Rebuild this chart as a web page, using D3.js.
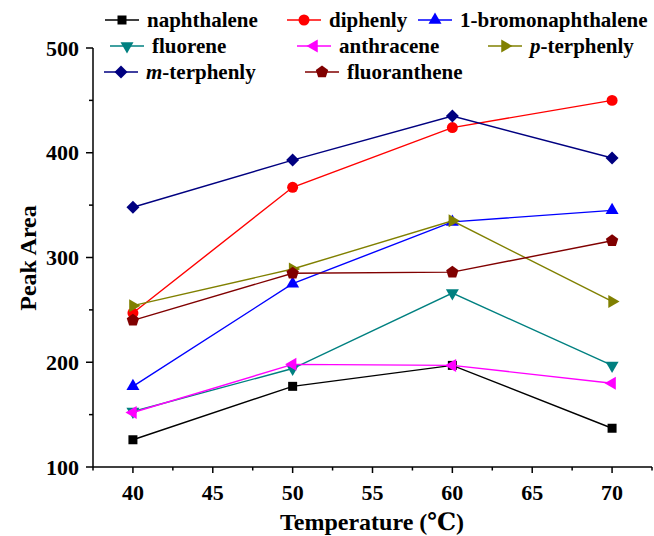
<!DOCTYPE html>
<html>
<head>
<meta charset="utf-8">
<script src="https://cdn.jsdelivr.net/npm/d3@7"></script>
<style>
  body { margin: 0; background: #fff; }
</style>
</head>
<body>
<svg id="chart" width="654" height="536" font-family="'Liberation Serif', 'DejaVu Serif', serif" font-weight="bold"></svg>
<script>
// temperaturen (x) en piekoppervlak per stof
var temps = [40, 50, 60, 70];
var naphthalene = [126, 177, 197, 137];
var diphenly = [247, 367, 424, 450];
var bromonaphthalene = [177, 275, 334, 345];
var fluorene = [153, 194, 266, 197];
var anthracene = [152, 198, 197, 180];
var pTerphenly = [254, 289, 335, 258];
var mTerphenly = [348, 393, 435, 395];
var fluoranthene = [240, 285, 286, 316];

var xTicks = [40, 45, 50, 55, 60, 65, 70];
var yTicks = [100, 200, 300, 400, 500];

var series = [
    { name: "naphthalene", values: naphthalene, color: "#000000", shape: "square" },
    { name: "diphenly", values: diphenly, color: "#ff0000", shape: "circle" },
    { name: "1-bromonaphthalene", values: bromonaphthalene, color: "#0000ff", shape: "up" },
    { name: "fluorene", values: fluorene, color: "#008080", shape: "down" },
    { name: "anthracene", values: anthracene, color: "#ff00ff", shape: "left" },
    { name: "p-terphenly", values: pTerphenly, color: "#808000", shape: "right", italic: "p" },
    { name: "m-terphenly", values: mTerphenly, color: "#000080", shape: "diamond", italic: "m" },
    { name: "fluoranthene", values: fluoranthene, color: "#800000", shape: "pentagon" }
];

// plek van de legenda-items (begin van het lijntje, midden van de regel)
var legendPos = [[105, 20], [287, 20], [418, 20], [110, 46], [297, 46], [488, 46], [104, 72], [305, 72]];

var svg = d3.select("#chart");

var x = d3.scaleLinear().domain([37.5, 72.5]).range([93, 652]);
var y = d3.scaleLinear().domain([100, 500]).range([467, 48]);

// regelmatige veelhoek als marker
function polygon(n, r, rot) {
    var pts = [];
    for (var i = 0; i < n; i++) {
        var a = rot + i * 2 * Math.PI / n;
        pts.push([r * Math.cos(a), r * Math.sin(a)]);
    }
    return "M" + pts.join("L") + "Z";
}

function markerPath(shape) {
    switch (shape) {
        case "square": return "M-4.5,-4.5H4.5V4.5H-4.5Z";
        case "circle": return d3.symbol().type(d3.symbolCircle).size(95)();
        case "up": return polygon(3, 7.5, -Math.PI / 2);
        case "down": return polygon(3, 7.5, Math.PI / 2);
        case "left": return polygon(3, 7.5, Math.PI);
        case "right": return polygon(3, 7.5, 0);
        case "diamond": return polygon(4, 6.5, 0);
        case "pentagon": return polygon(5, 6.5, -Math.PI / 2);
    }
}

// assen
var xAxis = svg.append("g").attr("transform", "translate(0,467)");
xAxis.append("line").attr("x1", 93).attr("x2", 652).attr("stroke", "#000").attr("stroke-width", 1.5);
xAxis.selectAll(".major").data(xTicks).enter().append("line")
    .attr("x1", d => x(d)).attr("x2", d => x(d)).attr("y1", 0).attr("y2", 6)
    .attr("stroke", "#000").attr("stroke-width", 1.5);
xAxis.selectAll(".minor").data(d3.range(37.5, 73, 5)).enter().append("line")
    .attr("x1", d => x(d)).attr("x2", d => x(d)).attr("y1", 0).attr("y2", 3.5)
    .attr("stroke", "#000").attr("stroke-width", 1.5);
xAxis.selectAll("text").data(xTicks).enter().append("text")
    .attr("x", d => x(d)).attr("y", 33).attr("text-anchor", "middle")
    .attr("font-size", 22).text(d => d);

var yAxis = svg.append("g");
yAxis.append("line").attr("x1", 93).attr("x2", 93).attr("y1", 48).attr("y2", 467).attr("stroke", "#000").attr("stroke-width", 1.5);
yAxis.selectAll(".major").data(yTicks).enter().append("line")
    .attr("x1", 86).attr("x2", 93).attr("y1", d => y(d)).attr("y2", d => y(d))
    .attr("stroke", "#000").attr("stroke-width", 1.5);
yAxis.selectAll(".minor").data(d3.range(150, 500, 100)).enter().append("line")
    .attr("x1", 89).attr("x2", 93).attr("y1", d => y(d)).attr("y2", d => y(d))
    .attr("stroke", "#000").attr("stroke-width", 1.5);
yAxis.selectAll("text").data(yTicks).enter().append("text")
    .attr("x", 79).attr("y", d => y(d)).attr("dy", "0.35em").attr("text-anchor", "end")
    .attr("font-size", 22).text(d => d);

svg.append("text").attr("transform", "translate(36,258) rotate(-90)")
    .attr("text-anchor", "middle").attr("font-size", 24).text("Peak Area");
svg.append("text").attr("x", 372).attr("y", 530)
    .attr("text-anchor", "middle").attr("font-size", 24).text("Temperature (℃)");

// lijnen en markers
var line = d3.line().x((d, i) => x(temps[i])).y(d => y(d));

series.forEach(s => {
    svg.append("path").datum(s.values).attr("d", line)
        .attr("fill", "none").attr("stroke", s.color).attr("stroke-width", 1.4);
    svg.selectAll(null).data(s.values).enter().append("path")
        .attr("d", markerPath(s.shape))
        .attr("transform", (d, i) => "translate(" + x(temps[i]) + "," + y(d) + ")")
        .attr("fill", s.color);
});

// legenda
series.forEach((s, i) => {
    var g = svg.append("g").attr("transform", "translate(" + legendPos[i][0] + "," + legendPos[i][1] + ")");
    g.append("line").attr("x1", 0).attr("x2", 34).attr("stroke", s.color).attr("stroke-width", 1.4);
    g.append("path").attr("d", markerPath(s.shape)).attr("transform", "translate(17,0)").attr("fill", s.color);
    var t = g.append("text").attr("x", 42).attr("dy", "0.35em").attr("font-size", 21);
    if (s.italic) {
        t.append("tspan").attr("font-style", "italic").text(s.italic);
        t.append("tspan").text(s.name.slice(1));
    } else {
        t.text(s.name);
    }
});
</script>
</body>
</html>
